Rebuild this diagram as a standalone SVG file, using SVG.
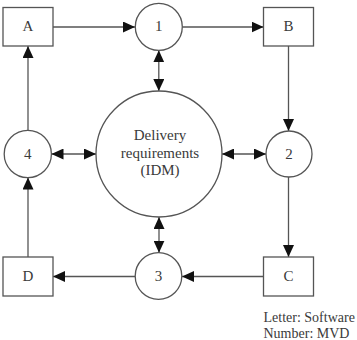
<svg xmlns="http://www.w3.org/2000/svg" width="357" height="340" viewBox="0 0 357 340">
  <style>
    .box { fill: #fff; stroke: #555; stroke-width: 1.3; }
    .node { fill: #fff; stroke: #555; stroke-width: 1.3; }
    .edge { fill: none; stroke: #555; stroke-width: 1.3; }
    .lbl { font-family: "Liberation Serif", "Times New Roman", serif; font-size: 15px; fill: #3a3a3a; text-anchor: middle; }
    .note { font-family: "Liberation Serif", "Times New Roman", serif; font-size: 14px; fill: #3a3a3a; }
  </style>
  <defs>
    <marker id="head" viewBox="0 0 12 11" refX="12" refY="5.5" markerWidth="12" markerHeight="11" markerUnits="userSpaceOnUse" orient="auto-start-reverse">
      <path d="M0,0 L12,5.5 L0,11 z" fill="#111"/>
    </marker>
  </defs>

  <rect width="357" height="340" fill="#fff"/>

  <!-- connectors -->
  <g id="connectors">
    <path class="edge" d="M53,27 H135" marker-end="url(#head)"/>
    <path class="edge" d="M182.3,27 H263.5" marker-end="url(#head)"/>
    <path class="edge" d="M288.5,46 V131" marker-end="url(#head)"/>
    <path class="edge" d="M288.5,177 V257" marker-end="url(#head)"/>
    <path class="edge" d="M263.5,276.5 H182" marker-end="url(#head)"/>
    <path class="edge" d="M135,276.5 H53" marker-end="url(#head)"/>
    <path class="edge" d="M28,257 V177.5" marker-end="url(#head)"/>
    <path class="edge" d="M28,130.5 V46" marker-end="url(#head)"/>
    <path class="edge" d="M158.8,50.3 V91" marker-start="url(#head)" marker-end="url(#head)"/>
    <path class="edge" d="M51.5,154 H96" marker-start="url(#head)" marker-end="url(#head)"/>
    <path class="edge" d="M222,154 H266" marker-start="url(#head)" marker-end="url(#head)"/>
    <path class="edge" d="M159,217 V252.7" marker-start="url(#head)" marker-end="url(#head)"/>
  </g>

  <!-- square nodes -->
  <g id="node-A">
    <rect class="box" x="3" y="7.5" width="50" height="38.5"/>
    <text class="lbl" x="28" y="31">A</text>
  </g>
  <g id="node-B">
    <rect class="box" x="263.5" y="7.5" width="50" height="38.5"/>
    <text class="lbl" x="288.5" y="31">B</text>
  </g>
  <g id="node-C">
    <rect class="box" x="263.5" y="257" width="50" height="39"/>
    <text class="lbl" x="288.5" y="281">C</text>
  </g>
  <g id="node-D">
    <rect class="box" x="3" y="257" width="50" height="39"/>
    <text class="lbl" x="28" y="281">D</text>
  </g>

  <!-- round nodes -->
  <g id="node-1">
    <circle class="node" cx="158.8" cy="26.8" r="23.5"/>
    <text class="lbl" x="158.8" y="31">1</text>
  </g>
  <g id="node-2">
    <circle class="node" cx="289" cy="154" r="23"/>
    <text class="lbl" x="289" y="158.5">2</text>
  </g>
  <g id="node-3">
    <circle class="node" cx="158.5" cy="276" r="23.3"/>
    <text class="lbl" x="158.5" y="281">3</text>
  </g>
  <g id="node-4">
    <circle class="node" cx="27.8" cy="154" r="23.6"/>
    <text class="lbl" x="27.8" y="158.5">4</text>
  </g>

  <!-- central requirements node -->
  <g id="node-idm">
    <circle class="node" cx="159" cy="154" r="63"/>
    <text class="lbl" x="160" y="140">Delivery</text>
    <text class="lbl" x="160" y="157.5">requirements</text>
    <text class="lbl" x="160" y="174.5">(IDM)</text>
  </g>

  <!-- legend -->
  <g id="legend">
    <text class="note" x="263.5" y="321.5">Letter: Software</text>
    <text class="note" x="263.5" y="337.5">Number: MVD</text>
  </g>
</svg>
